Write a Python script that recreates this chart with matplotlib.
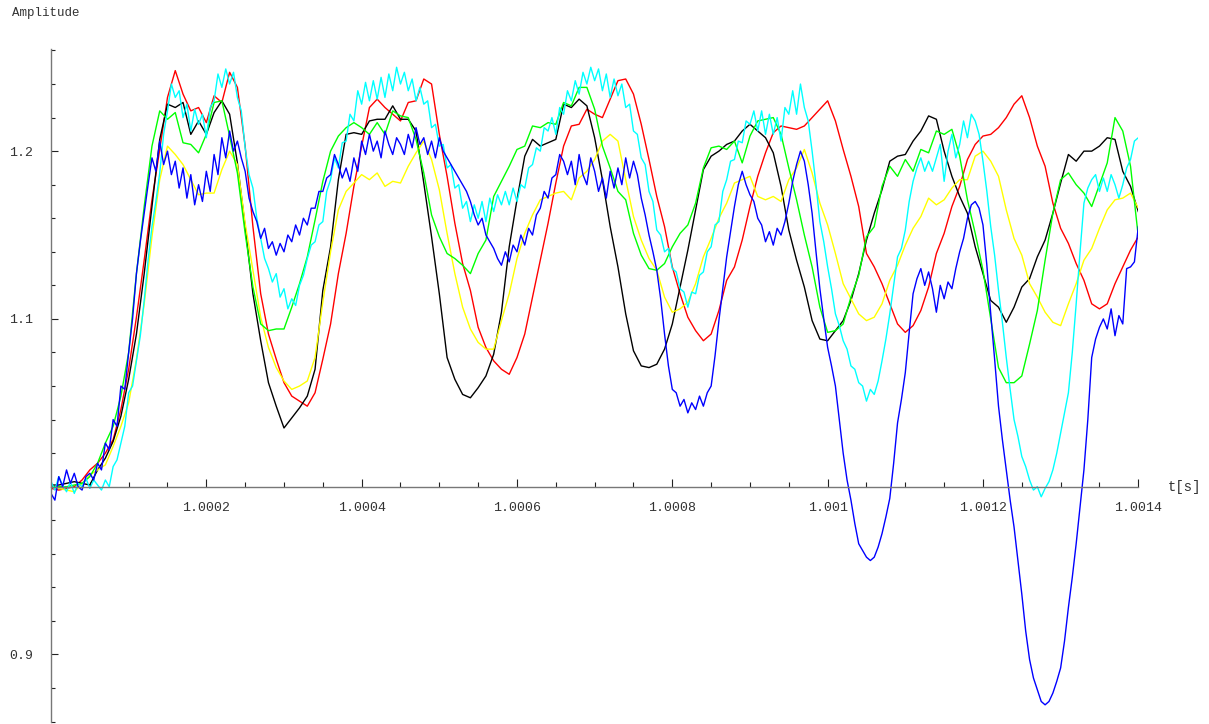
import matplotlib
matplotlib.use("Agg")
import matplotlib.pyplot as plt
from matplotlib.ticker import FixedLocator, MultipleLocator
import numpy as np

# time after t = 1 s, sampled every step_smooth / step_noisy microseconds
step_smooth = 10
step_noisy = 5

red = [
    0.999, 0.998, 0.999, 1.000, 1.004, 1.010, 1.014, 1.020, 1.028, 1.046,
    1.070, 1.101, 1.135, 1.171, 1.201, 1.232, 1.248, 1.234, 1.224, 1.226,
    1.217, 1.233, 1.229, 1.247, 1.238, 1.203, 1.155, 1.115, 1.091, 1.076,
    1.062, 1.054, 1.051, 1.048, 1.056, 1.076, 1.097, 1.127, 1.151, 1.179,
    1.203, 1.226, 1.231, 1.226, 1.222, 1.218, 1.229, 1.230, 1.243, 1.240,
    1.210, 1.185, 1.157, 1.133, 1.117, 1.095, 1.083, 1.075, 1.070, 1.067,
    1.077, 1.091, 1.113, 1.135, 1.157, 1.181, 1.203, 1.215, 1.216, 1.225,
    1.222, 1.220, 1.231, 1.242, 1.243, 1.234, 1.216, 1.195, 1.173, 1.155,
    1.131, 1.115, 1.101, 1.093, 1.087, 1.091, 1.105, 1.123, 1.131, 1.147,
    1.167, 1.185, 1.199, 1.211, 1.215, 1.214, 1.213, 1.215, 1.220, 1.225,
    1.230, 1.218, 1.201, 1.185, 1.167, 1.139, 1.131, 1.121, 1.109, 1.097,
    1.092, 1.096, 1.105, 1.119, 1.139, 1.151, 1.167, 1.179, 1.195, 1.204,
    1.209, 1.210, 1.214, 1.220, 1.228, 1.233, 1.220, 1.203, 1.191, 1.169,
    1.154, 1.145, 1.133, 1.123, 1.109, 1.106, 1.109, 1.121, 1.131, 1.141,
    1.149,
]

black = [
    1.001, 1.001, 1.002, 1.003, 1.002, 1.001, 1.010, 1.017, 1.027, 1.042,
    1.064, 1.091, 1.127, 1.167, 1.207, 1.228, 1.226, 1.229, 1.210, 1.218,
    1.210, 1.223, 1.230, 1.222, 1.193, 1.155, 1.115, 1.087, 1.062, 1.048,
    1.035, 1.041, 1.047, 1.054, 1.070, 1.117, 1.143, 1.183, 1.210, 1.211,
    1.210, 1.218, 1.219, 1.219, 1.227, 1.219, 1.219, 1.212, 1.181, 1.149,
    1.115, 1.077, 1.064, 1.055, 1.053, 1.059, 1.066, 1.079, 1.104, 1.143,
    1.171, 1.197, 1.207, 1.203, 1.205, 1.207, 1.228, 1.226, 1.231, 1.227,
    1.208, 1.183, 1.155, 1.131, 1.103, 1.081, 1.072, 1.071, 1.073, 1.082,
    1.097, 1.119, 1.141, 1.165, 1.189, 1.197, 1.200, 1.204, 1.206, 1.212,
    1.216, 1.212, 1.208, 1.199, 1.179, 1.153, 1.135, 1.119, 1.099, 1.088,
    1.087, 1.093, 1.099, 1.111, 1.127, 1.147, 1.163, 1.177, 1.194, 1.197,
    1.198, 1.206, 1.212, 1.221, 1.219, 1.200, 1.185, 1.173, 1.163, 1.143,
    1.127, 1.111, 1.107, 1.098, 1.107, 1.119, 1.124, 1.137, 1.147, 1.163,
    1.181, 1.198, 1.194, 1.200, 1.200, 1.203, 1.208, 1.207, 1.188, 1.179,
    1.164,
]

yellow = [
    1.000, 0.999, 0.998, 0.997, 1.002, 1.007, 1.010, 1.013, 1.024, 1.036,
    1.050, 1.076, 1.109, 1.149, 1.183, 1.203, 1.198, 1.192, 1.183, 1.174,
    1.175, 1.175, 1.189, 1.200, 1.192, 1.157, 1.129, 1.101, 1.083, 1.071,
    1.063, 1.058, 1.060, 1.063, 1.077, 1.110, 1.140, 1.165, 1.176, 1.181,
    1.186, 1.183, 1.187, 1.179, 1.182, 1.181, 1.191, 1.199, 1.206, 1.195,
    1.177, 1.151, 1.127, 1.107, 1.094, 1.086, 1.082, 1.082, 1.099, 1.115,
    1.136, 1.151, 1.162, 1.171, 1.173, 1.175, 1.176, 1.171, 1.184, 1.188,
    1.195, 1.206, 1.210, 1.206, 1.183, 1.161, 1.147, 1.136, 1.129, 1.113,
    1.104, 1.106, 1.110, 1.121, 1.137, 1.148, 1.160, 1.169, 1.181, 1.183,
    1.185, 1.173, 1.171, 1.173, 1.170, 1.183, 1.190, 1.201, 1.187, 1.169,
    1.156, 1.139, 1.121, 1.112, 1.103, 1.099, 1.101, 1.109, 1.123, 1.132,
    1.144, 1.154, 1.161, 1.172, 1.168, 1.171, 1.178, 1.183, 1.183, 1.197,
    1.200, 1.194, 1.185, 1.165, 1.148, 1.138, 1.121, 1.113, 1.104, 1.098,
    1.096, 1.109, 1.121, 1.135, 1.142, 1.154, 1.165, 1.171, 1.172, 1.175,
    1.166,
]

green = [
    1.000, 1.000, 1.000, 1.001, 1.002, 1.006, 1.014, 1.026, 1.036, 1.054,
    1.080, 1.127, 1.167, 1.203, 1.224, 1.219, 1.223, 1.205, 1.204, 1.199,
    1.210, 1.229, 1.230, 1.209, 1.187, 1.151, 1.119, 1.097, 1.093, 1.094,
    1.094, 1.107, 1.121, 1.137, 1.159, 1.182, 1.200, 1.209, 1.214, 1.217,
    1.214, 1.210, 1.217, 1.210, 1.224, 1.221, 1.220, 1.207, 1.187, 1.162,
    1.149, 1.139, 1.136, 1.132, 1.127, 1.139, 1.147, 1.173, 1.182, 1.191,
    1.201, 1.203, 1.215, 1.214, 1.217, 1.216, 1.229, 1.227, 1.238, 1.238,
    1.225, 1.203, 1.190, 1.176, 1.171, 1.151, 1.138, 1.130, 1.129, 1.133,
    1.143, 1.151, 1.156, 1.169, 1.190, 1.202, 1.203, 1.201, 1.206, 1.193,
    1.209, 1.218, 1.219, 1.220, 1.210, 1.190, 1.171, 1.150, 1.131, 1.107,
    1.092, 1.093, 1.097, 1.113, 1.126, 1.149, 1.155, 1.179, 1.191, 1.185,
    1.195, 1.188, 1.201, 1.199, 1.212, 1.210, 1.213, 1.197, 1.171, 1.151,
    1.129, 1.100, 1.071, 1.062, 1.062, 1.066, 1.085, 1.105, 1.135, 1.163,
    1.183, 1.187, 1.180, 1.175, 1.167, 1.180, 1.193, 1.220, 1.212, 1.191,
    1.149,
]

cyan = [
    1.003, 0.998, 1.006, 1.001, 0.997, 1.003, 0.996, 1.002, 1.000, 1.005,
    0.999, 1.004, 1.001, 0.998, 1.004, 1.000, 1.012, 1.016, 1.026, 1.036,
    1.056, 1.060, 1.075, 1.090, 1.111, 1.135, 1.155, 1.170, 1.187, 1.210,
    1.224, 1.240, 1.232, 1.236, 1.220, 1.228, 1.212, 1.225, 1.216, 1.222,
    1.208, 1.226, 1.230, 1.246, 1.238, 1.249, 1.240, 1.247, 1.232, 1.224,
    1.202, 1.186, 1.178, 1.160, 1.148, 1.136, 1.130, 1.122, 1.127, 1.113,
    1.118, 1.106, 1.112, 1.108, 1.120, 1.126, 1.136, 1.144, 1.146, 1.156,
    1.158, 1.176, 1.183, 1.196, 1.190, 1.205, 1.206, 1.222, 1.218, 1.236,
    1.228, 1.241, 1.230, 1.242, 1.231, 1.244, 1.232, 1.246, 1.236, 1.250,
    1.240, 1.247, 1.236, 1.243, 1.230, 1.238, 1.228, 1.230, 1.214, 1.216,
    1.203, 1.204, 1.190, 1.192, 1.178, 1.180, 1.166, 1.170, 1.158, 1.168,
    1.160, 1.170, 1.158, 1.172, 1.164, 1.174, 1.168, 1.176, 1.168, 1.178,
    1.170, 1.180, 1.178, 1.190, 1.192, 1.202, 1.200, 1.214, 1.212, 1.220,
    1.210, 1.226, 1.222, 1.236, 1.230, 1.242, 1.234, 1.247, 1.240, 1.250,
    1.242, 1.249, 1.236, 1.246, 1.232, 1.243, 1.233, 1.240, 1.226, 1.228,
    1.212, 1.210, 1.196, 1.192, 1.176, 1.170, 1.153, 1.150, 1.140, 1.142,
    1.130, 1.128, 1.118, 1.116, 1.107, 1.116, 1.115, 1.126, 1.128, 1.140,
    1.143, 1.156, 1.158, 1.176, 1.183, 1.194, 1.195, 1.206, 1.205, 1.218,
    1.216, 1.224, 1.212, 1.224, 1.210, 1.222, 1.210, 1.220, 1.206, 1.226,
    1.222, 1.236, 1.222, 1.240, 1.226, 1.218, 1.200, 1.180, 1.158, 1.146,
    1.131, 1.118, 1.103, 1.096, 1.087, 1.082, 1.072, 1.070, 1.062, 1.060,
    1.051, 1.058, 1.055, 1.063, 1.075, 1.088, 1.103, 1.120, 1.137, 1.142,
    1.153, 1.170, 1.182, 1.190, 1.196, 1.188, 1.194, 1.188, 1.196, 1.204,
    1.182, 1.200, 1.210, 1.196, 1.204, 1.218, 1.208, 1.222, 1.218, 1.210,
    1.194, 1.176, 1.155, 1.138, 1.117, 1.098, 1.077, 1.058, 1.040, 1.030,
    1.018, 1.012, 1.004, 0.998, 1.000, 0.994, 0.999, 1.003, 1.010, 1.020,
    1.032, 1.044, 1.056, 1.080, 1.109, 1.140, 1.169, 1.178, 1.183, 1.186,
    1.176, 1.184, 1.176, 1.186, 1.180, 1.172, 1.180, 1.190, 1.195, 1.206,
    1.208,
]

blue = [
    0.996, 0.992, 1.006, 1.000, 1.010, 1.002, 1.008, 1.000, 0.998, 1.006,
    1.008, 1.004, 1.014, 1.010, 1.026, 1.022, 1.040, 1.036, 1.060, 1.058,
    1.080, 1.100, 1.127, 1.146, 1.163, 1.180, 1.196, 1.188, 1.206, 1.192,
    1.200, 1.186, 1.194, 1.178, 1.190, 1.172, 1.186, 1.168, 1.180, 1.170,
    1.188, 1.176, 1.198, 1.186, 1.208, 1.196, 1.212, 1.200, 1.206, 1.196,
    1.188, 1.172, 1.164, 1.158, 1.148, 1.154, 1.142, 1.146, 1.138, 1.145,
    1.140, 1.150, 1.146, 1.156, 1.150, 1.160, 1.156, 1.166, 1.166, 1.176,
    1.176, 1.184, 1.186, 1.198, 1.192, 1.184, 1.190, 1.182, 1.196, 1.188,
    1.206, 1.198, 1.210, 1.200, 1.206, 1.196, 1.212, 1.204, 1.198, 1.208,
    1.204, 1.198, 1.210, 1.202, 1.214, 1.204, 1.208, 1.198, 1.206, 1.196,
    1.208, 1.200, 1.196, 1.192, 1.188, 1.184, 1.180, 1.176, 1.170, 1.162,
    1.156, 1.160, 1.150, 1.146, 1.142, 1.136, 1.132, 1.140, 1.134, 1.144,
    1.140, 1.150, 1.144, 1.154, 1.150, 1.162, 1.166, 1.176, 1.172, 1.184,
    1.186, 1.198, 1.194, 1.186, 1.194, 1.180, 1.198, 1.186, 1.180, 1.196,
    1.188, 1.176, 1.184, 1.172, 1.188, 1.178, 1.190, 1.180, 1.196, 1.184,
    1.194, 1.186, 1.172, 1.162, 1.150, 1.140, 1.129, 1.112, 1.091, 1.072,
    1.058, 1.056, 1.048, 1.052, 1.044, 1.050, 1.046, 1.054, 1.048, 1.056,
    1.060, 1.078, 1.099, 1.118, 1.137, 1.152, 1.167, 1.180, 1.188, 1.180,
    1.174, 1.170, 1.160, 1.156, 1.146, 1.152, 1.144, 1.154, 1.150, 1.158,
    1.169, 1.182, 1.192, 1.200, 1.194, 1.180, 1.163, 1.140, 1.118, 1.100,
    1.083, 1.072, 1.060, 1.040, 1.020, 1.004, 0.992, 0.978, 0.966, 0.962,
    0.958, 0.956, 0.958, 0.964, 0.972, 0.982, 0.993, 1.014, 1.038, 1.052,
    1.068, 1.092, 1.115, 1.124, 1.130, 1.120, 1.128, 1.118, 1.104, 1.120,
    1.112, 1.122, 1.118, 1.130, 1.140, 1.148, 1.160, 1.168, 1.170, 1.166,
    1.156, 1.132, 1.103, 1.076, 1.048, 1.028, 1.010, 0.992, 0.976, 0.956,
    0.936, 0.914, 0.897, 0.886, 0.879, 0.872, 0.870, 0.872, 0.877, 0.884,
    0.892, 0.908, 0.928, 0.946, 0.966, 0.988, 1.010, 1.040, 1.077, 1.088,
    1.095, 1.100, 1.094, 1.106, 1.090, 1.102, 1.097, 1.130, 1.131, 1.134,
    1.155,
]

x_major = [1.0002, 1.0004, 1.0006, 1.0008, 1.001, 1.0012, 1.0014]
x_labels = ["1.0002", "1.0004", "1.0006", "1.0008", "1.001", "1.0012", "1.0014"]
y_major = [0.9, 1.0, 1.1, 1.2]
y_labels = ["0.9", "", "1.1", "1.2"]


def times(vals, step):
    return 1.0 + np.arange(len(vals)) * step * 1e-6


W, H = 1209, 724
fig = plt.figure(figsize=(W / 100, H / 100), dpi=100)
ax = fig.add_axes([51 / W, (H - 721.6) / H, (1138.3 - 51) / W, (721.6 - 49.3) / H])

ax.plot(times(red, step_smooth), red, color="#ff0000", lw=1.0)
ax.plot(times(black, step_smooth), black, color="#000000", lw=1.0)
ax.plot(times(yellow, step_smooth), yellow, color="#ffff00", lw=1.0)
ax.plot(times(green, step_smooth), green, color="#00ff00", lw=1.0)
ax.plot(times(cyan, step_noisy), cyan, color="#00ffff", lw=1.0)
ax.plot(times(blue, step_noisy), blue, color="#0000ff", lw=1.0)

ax.set_xlim(1.0, 1.0014)
ax.set_ylim(0.86, 1.2607)

for side in ["top", "right"]:
    ax.spines[side].set_visible(False)
ax.spines["left"].set_position(("data", 1.0))
ax.spines["bottom"].set_position(("data", 1.0))
for side in ["left", "bottom"]:
    ax.spines[side].set_color("#777777")
    ax.spines[side].set_linewidth(1.0)

ax.xaxis.set_major_locator(FixedLocator(x_major))
ax.set_xticklabels(x_labels)
ax.xaxis.set_minor_locator(MultipleLocator(0.00005))
ax.yaxis.set_major_locator(FixedLocator(y_major))
ax.set_yticklabels(y_labels)
ax.yaxis.set_minor_locator(MultipleLocator(0.02))

ax.tick_params(which="both", direction="in", color="#222222", width=0.8,
               labelsize=9.5, labelcolor="#333333")
ax.tick_params(axis="x", which="major", length=5.5, pad=11)
ax.tick_params(axis="x", which="minor", length=3.6)
ax.tick_params(axis="y", which="major", length=5.0, pad=13)
ax.tick_params(axis="y", which="minor", length=2.7)
for lab in ax.get_xticklabels() + ax.get_yticklabels():
    lab.set_family("Liberation Mono")

fig.text(11.7 / W, 1 - 13.3 / H, "Amplitude", family="Liberation Mono",
         fontsize=9, color="#333333", ha="left", va="center")
fig.text(1168 / W, 1 - 486.7 / H, "t[s]", family="Liberation Mono",
         fontsize=10, color="#333333", ha="left", va="center")

fig.savefig("out.png", dpi=100)
